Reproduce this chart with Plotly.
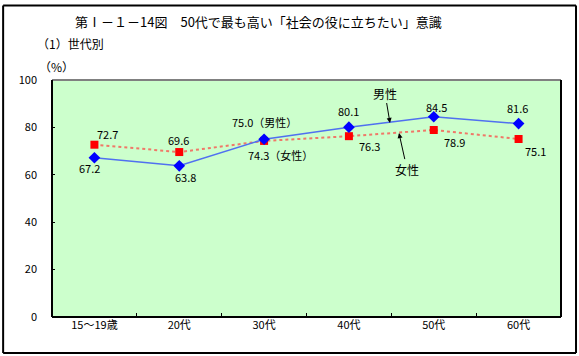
import plotly.graph_objects as go

categories = ["15～19歳", "20代", "30代", "40代", "50代", "60代"]
male = [67.2, 63.8, 75.0, 80.1, 84.5, 81.6]
female = [72.7, 69.6, 74.3, 76.3, 78.9, 75.1]
male_labels = ["67.2", "63.8", "75.0（男性）", "80.1", "84.5", "81.6"]
female_labels = ["72.7", "69.6", "74.3（女性）", "76.3", "78.9", "75.1"]
y_ticks = [0, 20, 40, 60, 80, 100]

# label offsets (pixels)
male_shift = [(-5, -10), (6, -11), (0, 17), (0, 16), (3, 10), (-1, 16)]
female_shift = [(13, 11), (-1, 12), (16, -14), (21, -10), (21, -12), (17, -12)]

FONT = "Noto Sans CJK JP, Noto Sans, sans-serif"

fig = go.Figure()
fig.add_trace(go.Scatter(
    x=categories, y=female, mode="lines+markers", name="女性",
    line=dict(color="#F07868", width=2, dash="dot"),
    marker=dict(symbol="square", size=8, color="#FF0000"),
))
fig.add_trace(go.Scatter(
    x=categories, y=male, mode="lines+markers", name="男性",
    line=dict(color="#5070F0", width=1.5),
    marker=dict(symbol="diamond", size=9, color="#0000FF"),
))

annotations = []
for c, v, t, (dx, dy) in zip(categories, male, male_labels, male_shift):
    annotations.append(dict(x=c, y=v, text=t, showarrow=False, xshift=dx, yshift=dy,
                            font=dict(family=FONT, size=11, color="black")))
for c, v, t, (dx, dy) in zip(categories, female, female_labels, female_shift):
    annotations.append(dict(x=c, y=v, text=t, showarrow=False, xshift=dx, yshift=dy,
                            font=dict(family=FONT, size=11, color="black")))

# series callouts with arrows
annotations.append(dict(x=3.484, y=81.9, xref="x", yref="y", text="男性",
                        showarrow=True, ax=3.425, ay=94.5, axref="x", ayref="y",
                        arrowhead=2, arrowsize=1, arrowwidth=1, arrowcolor="black",
                        font=dict(family=FONT, size=12, color="black")))
annotations.append(dict(x=3.59, y=77.6, xref="x", yref="y", text="女性",
                        showarrow=True, ax=3.685, ay=62.4, axref="x", ayref="y",
                        arrowhead=2, arrowsize=1, arrowwidth=1, arrowcolor="black",
                        font=dict(family=FONT, size=12, color="black")))

# titles
annotations.append(dict(x=0.041, y=1.245, xref="paper", yref="paper", xanchor="left", yanchor="middle",
                        text="第Ⅰ－１－14図　50代で最も高い「社会の役に立ちたい」意識", showarrow=False,
                        font=dict(family=FONT, size=13, color="black")))
annotations.append(dict(x=-0.034, y=1.152, xref="paper", yref="paper", xanchor="left", yanchor="middle",
                        text="（1）世代別", showarrow=False,
                        font=dict(family=FONT, size=12, color="black")))
annotations.append(dict(x=-0.030, y=1.059, xref="paper", yref="paper", xanchor="left", yanchor="middle",
                        text="（%）", showarrow=False,
                        font=dict(family=FONT, size=12, color="black")))

FX0, FX1, FY0, FY1 = -0.096, 1.0295, -0.152, 1.314
shapes = [
    # outer frame (four sides)
    dict(type="line", xref="paper", yref="paper", x0=FX0, x1=FX1, y0=FY1, y1=FY1,
         line=dict(color="black", width=2)),
    dict(type="line", xref="paper", yref="paper", x0=FX0, x1=FX1, y0=FY0, y1=FY0,
         line=dict(color="black", width=2)),
    dict(type="line", xref="paper", yref="paper", x0=FX0, x1=FX0, y0=FY0, y1=FY1,
         line=dict(color="black", width=2)),
    dict(type="line", xref="paper", yref="paper", x0=FX1, x1=FX1, y0=FY0, y1=FY1,
         line=dict(color="black", width=2)),
    # plot area borders
    dict(type="line", xref="paper", yref="paper", x0=0, x1=1, y0=1, y1=1,
         line=dict(color="#808080", width=2)),
    dict(type="line", xref="paper", yref="paper", x0=0, x1=0, y0=0, y1=1,
         line=dict(color="black", width=2)),
    dict(type="line", xref="paper", yref="paper", x0=1, x1=1, y0=0, y1=1,
         line=dict(color="black", width=2)),
    dict(type="line", xref="paper", yref="paper", x0=0, x1=1, y0=0, y1=0,
         line=dict(color="black", width=2)),
]

fig.update_layout(
    width=579, height=356,
    margin=dict(l=52, r=18, t=80, b=39),
    paper_bgcolor="white", plot_bgcolor="#CCFFCC",
    showlegend=False,
    annotations=annotations, shapes=shapes,
    font=dict(family=FONT, size=11, color="black"),
)
fig.update_xaxes(type="category", showgrid=False, zeroline=False, showline=False,
                 ticks="inside", ticklen=4, tickcolor="black", tickson="boundaries",
                 tickfont=dict(family=FONT, size=11, color="black"), range=[-0.5, 5.5])
fig.update_yaxes(range=[0, 100], tickvals=y_ticks, showgrid=False, zeroline=False, showline=False,
                 ticks="inside", ticklen=3, tickcolor="black", ticklabelstandoff=14,
                 tickfont=dict(family=FONT, size=11, color="black"))

fig.write_html("out.html", config={"displayModeBar": False},
               post_script="document.body.style.margin='0';document.body.style.overflow='hidden';")
